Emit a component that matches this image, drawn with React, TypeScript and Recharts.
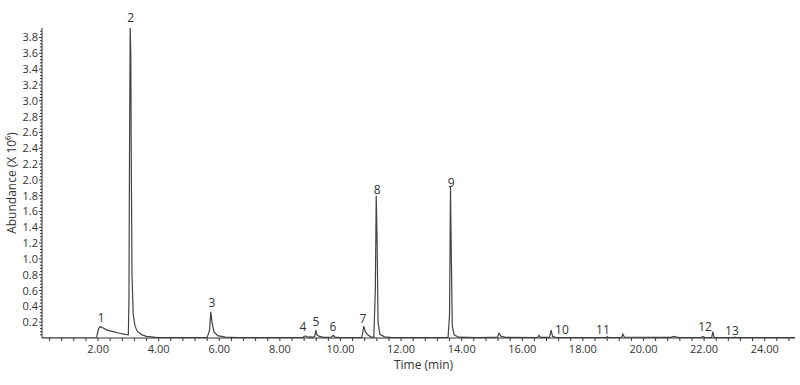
import React from "react";
import { LineChart, Line, XAxis, YAxis, ReferenceDot } from "recharts";

// retention time (min) and abundance (x10^6)
const times = [
  0.15, 1.95, 1.98, 2.02, 2.07, 2.15, 2.3, 2.5, 2.7, 2.9, 3.0,
  3.02, 3.04, 3.06, 3.08, 3.1, 3.12, 3.16, 3.22, 3.3, 3.45, 3.6, 3.9, 4.5,
  5.6, 5.68, 5.72, 5.76, 5.82, 5.95, 6.2, 6.6,
  8.75, 8.8, 8.86, 8.92, 9.0, 9.1, 9.15, 9.19, 9.22, 9.3, 9.45, 9.7, 9.76, 9.82, 10.0,
  10.7, 10.74, 10.77, 10.82, 10.9, 11.0, 11.1, 11.15, 11.18, 11.21, 11.24, 11.3, 11.45, 11.7,
  13.55, 13.6, 13.63, 13.66, 13.69, 13.75, 13.9, 14.5,
  15.0, 15.18, 15.23, 15.3, 15.45, 16.5, 16.55, 16.6, 16.9, 16.95, 17.0, 17.1,
  18.78, 18.81, 18.84, 19.28, 19.32, 19.37, 20.9, 21.0, 21.1, 21.2,
  21.9, 21.96, 22.02, 22.25, 22.29, 22.33, 22.5, 22.98, 23.01, 23.05, 25.0,
];
const abundance = [
  0, 0, 0.06, 0.12, 0.145, 0.13, 0.1, 0.08, 0.06, 0.045, 0.04,
  0.5, 2.5, 3.92, 3.6, 2.0, 0.8, 0.3, 0.15, 0.08, 0.04, 0.02, 0.008, 0.005,
  0.005, 0.1, 0.33, 0.2, 0.08, 0.03, 0.01, 0.005,
  0.005, 0.02, 0.025, 0.01, 0.015, 0.01, 0.02, 0.1, 0.04, 0.02, 0.008, 0.01, 0.035, 0.01, 0.005,
  0.006, 0.08, 0.15, 0.08, 0.04, 0.015, 0.01, 0.6, 1.8, 1.2, 0.2, 0.05, 0.015, 0.005,
  0.005, 0.3, 1.91, 1.0, 0.15, 0.04, 0.01, 0.006,
  0.008, 0.01, 0.06, 0.02, 0.008, 0.006, 0.035, 0.008, 0.008, 0.1, 0.02, 0.008,
  0.006, 0.02, 0.006, 0.006, 0.05, 0.01, 0.008, 0.02, 0.012, 0.006,
  0.006, 0.02, 0.006, 0.006, 0.08, 0.008, 0.005, 0.004, 0.012, 0.004, 0.004,
];

// peak numbers and where their labels sit
const peakNames = ["1", "2", "3", "4", "5", "6", "7", "8", "9", "10", "11", "12", "13"];
const peakLabelTimes = [2.1, 3.08, 5.76, 8.76, 9.19, 9.75, 10.74, 11.21, 13.65, 17.31, 18.66, 22.03, 22.92];
const peakLabelHeights = [0.25, 4.05, 0.44, 0.14, 0.2, 0.14, 0.24, 1.87, 1.96, 0.1, 0.1, 0.14, 0.09];

const xLabelTicks = [2, 4, 6, 8, 10, 12, 14, 16, 18, 20, 22, 24];
const yLabelTicks = [0.2, 0.4, 0.6, 0.8, 1.0, 1.2, 1.4, 1.6, 1.8, 2.0, 2.2, 2.4, 2.6, 2.8, 3.0, 3.2, 3.4, 3.6, 3.8];

const xTicks = Array.from({ length: 62 }, (_, i) => +((i + 1) * 0.4).toFixed(2));
const yTicks = Array.from({ length: 97 }, (_, i) => +((i + 1) * 0.04).toFixed(2));

const data = times.map((t, i) => ({ t, v: abundance[i] }));

const FONT = "'Open Sans', sans-serif";
const INK = "#333";

const isMajor = (v: number, list: number[]) => list.some((m) => Math.abs(m - v) < 1e-6);

const XTick = ({ x, y, payload }: any) => {
  const major = isMajor(payload.value, xLabelTicks);
  return (
    <g>
      <line x1={x} x2={x} y1={y} y2={y + 3} stroke={INK} strokeWidth={1} />
      {major && (
        <text x={x} y={y + 15} textAnchor="middle" fontSize={11} fill={INK} fontFamily={FONT}>
          {payload.value.toFixed(2)}
        </text>
      )}
    </g>
  );
};

const YTick = ({ x, y, payload }: any) => {
  const major = isMajor(payload.value, yLabelTicks);
  return (
    <g>
      <line x1={x - (major ? 3 : 2)} x2={x} y1={y} y2={y} stroke={INK} strokeWidth={1} />
      {major && (
        <text x={x - 4} y={y + 4} textAnchor="end" fontSize={11} fill={INK} fontFamily={FONT}>
          {payload.value.toFixed(1)}
        </text>
      )}
    </g>
  );
};

export default function App() {
  return (
    <div style={{ position: "absolute", left: 0, top: 0, width: 800, height: 385, background: "#fff" }}>
      <LineChart width={800} height={385} data={data} margin={{ top: 28, right: 5, bottom: 17, left: 0 }}>
        <XAxis
          dataKey="t"
          type="number"
          domain={[0.15, 25]}
          ticks={xTicks}
          interval={0}
          tickSize={0}
          tickMargin={0}
          tick={<XTick />}
          tickLine={false}
          stroke={INK}
          height={30}
          allowDataOverflow
          label={{
            content: ({ viewBox }: any) => (
              <text
                x={viewBox.x + viewBox.width / 2 + 5}
                y={viewBox.y + 31}
                textAnchor="middle"
                fontSize={12}
                fill={INK}
                fontFamily={FONT}
              >
                Time (min)
              </text>
            ),
          }}
        />
        <YAxis
          type="number"
          domain={[0, 3.92]}
          ticks={yTicks}
          interval={0}
          tickSize={0}
          tickMargin={0}
          tick={<YTick />}
          tickLine={false}
          stroke={INK}
          width={42}
          allowDataOverflow
          label={{
            content: ({ viewBox }: any) => {
              const cx = 13;
              const cy = viewBox.y + viewBox.height / 2;
              return (
                <text
                  x={cx}
                  y={cy}
                  transform={`rotate(-90, ${cx}, ${cy})`}
                  textAnchor="middle"
                  dominantBaseline="middle"
                  fontSize={12}
                  fill={INK}
                  fontFamily={FONT}
                >
                  Abundance (X 10⁶)
                </text>
              );
            },
          }}
        />
        <Line
          type="linear"
          dataKey="v"
          stroke="#444"
          strokeWidth={1.2}
          dot={false}
          isAnimationActive={false}
        />
        {peakNames.map((n, i) => (
          <ReferenceDot
            key={n}
            x={peakLabelTimes[i]}
            y={peakLabelHeights[i]}
            r={0}
            ifOverflow="visible"
            label={{ value: n, position: "center", fontSize: 12, fill: INK, fontFamily: FONT }}
          />
        ))}
      </LineChart>
    </div>
  );
}
